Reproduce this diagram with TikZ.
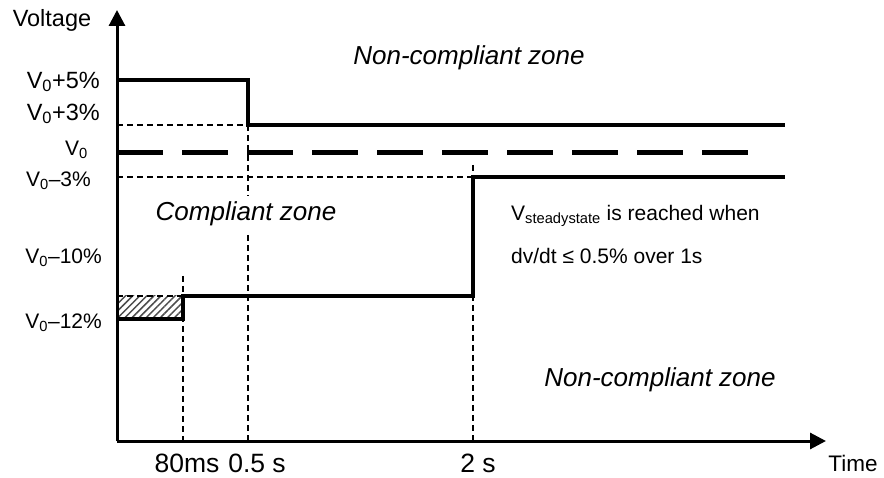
\documentclass[tikz,border=0pt]{standalone}
\usepackage{fontspec}
\setmainfont{Liberation Sans}
\usetikzlibrary{arrows.meta,patterns.meta}

\begin{document}
\begin{tikzpicture}[x=1pt,y=-1pt]
\tikzstyle{every node}=[font=\fontsize{21}{25}\selectfont, inner sep=1pt]
\tikzstyle{big}=[font=\fontsize{23.5}{28}\selectfont]
\tikzstyle{tick}=[font=\fontsize{26.5}{30}\selectfont]
\tikzstyle{zone}=[font=\fontsize{26}{30}\selectfont\itshape]
\tikzstyle{axis}=[line width=3pt,-{Triangle[length=16pt,width=16pt]}]
\tikzstyle{level}=[line width=3.5pt]
\tikzstyle{guide}=[line width=1.2pt,dash pattern=on 6pt off 4pt]
\tikzstyle{nominal}=[line width=5pt,dash pattern=on 46pt off 19pt]
\useasboundingbox (0,0) rectangle (884,478);
% axes
\coordinate (o) at (117,441);
\coordinate (ytop) at (117,10);
\coordinate (xend) at (826,441);
% time marks
\coordinate (a1) at (183,276);
\coordinate (a0) at (183,441);
\coordinate (b1) at (248,125);
\coordinate (b0) at (248,441);
\coordinate (c1) at (473,165);
\coordinate (c0) at (473,441);
% voltage levels
\coordinate (u0) at (117,80);
\coordinate (u1) at (248,80);
\coordinate (u2) at (785,125);
\coordinate (h3) at (117,125);
\coordinate (m0) at (117,153);
\coordinate (m1) at (761,153);
\coordinate (l3) at (117,177);
\coordinate (l2) at (473,177);
\coordinate (l1) at (785,177);
\coordinate (d0) at (117,319);
\coordinate (d1) at (183,319);
\coordinate (d2) at (183,296);
\coordinate (d3) at (473,296);
\coordinate (k0) at (117,296);
% hatched box
\fill[pattern={Lines[angle=45,distance=5pt,line width=1.5pt]},pattern color=black!70] (k0) rectangle (d1);
% guides
\draw[guide] (h3) -- (b1);
\draw[guide] (b1) -- (b0);
\draw[guide] (l3) -- (l2);
\draw[guide] (c1) -- (c0);
\draw[guide] (a1) -- (a0);
\draw[guide] (k0) -- (d2);
% nominal
\draw[nominal] (m0) -- (m1);
% envelope
\draw[level] (u0) -- (u1) -- (b1) -- (u2);
\draw[level] (d0) -- (d1) -- (d2) -- (d3) -- (l2) -- (l1);
\draw[axis] (o) -- (ytop);
\draw[axis] (o) -- (xend);
% labels
\node (ylab) [big] at (52,20) {Voltage};
\node (xlab) [font=\fontsize{22.5}{26}\selectfont] at (853,463) {Time};
\node (p5) [big,anchor=east] at (101,82) {V\textsubscript{0}+5\%};
\node (p3) [big,anchor=east] at (101,114) {V\textsubscript{0}+3\%};
\node (n0) [anchor=east] at (89,150) {V\textsubscript{0}};
\node (n3) [anchor=east] at (92,181) {V\textsubscript{0}–3\%};
\node (n10) [anchor=east] at (103,258) {V\textsubscript{0}–10\%};
\node (n12) [anchor=east] at (103,323) {V\textsubscript{0}–12\%};
\node (ta) [tick] at (187,463) {80ms};
\node (tb) [tick] at (257,463) {0.5 s};
\node (tc) [tick] at (478,463) {2 s};
\node (top) [zone] at (469,58) {Non-compliant zone};
\node (mid) [zone,fill=white,inner sep=6pt] at (246,214) {Compliant zone};
\node (bot) [zone] at (660,380) {Non-compliant zone};
\node (ss1) [anchor=west] at (510,216) {V\textsubscript{steadystate} is reached when};
\node (ss2) [anchor=west] at (510,256) {dv/dt ≤ 0.5\% over 1s};
\end{tikzpicture}
\end{document}
